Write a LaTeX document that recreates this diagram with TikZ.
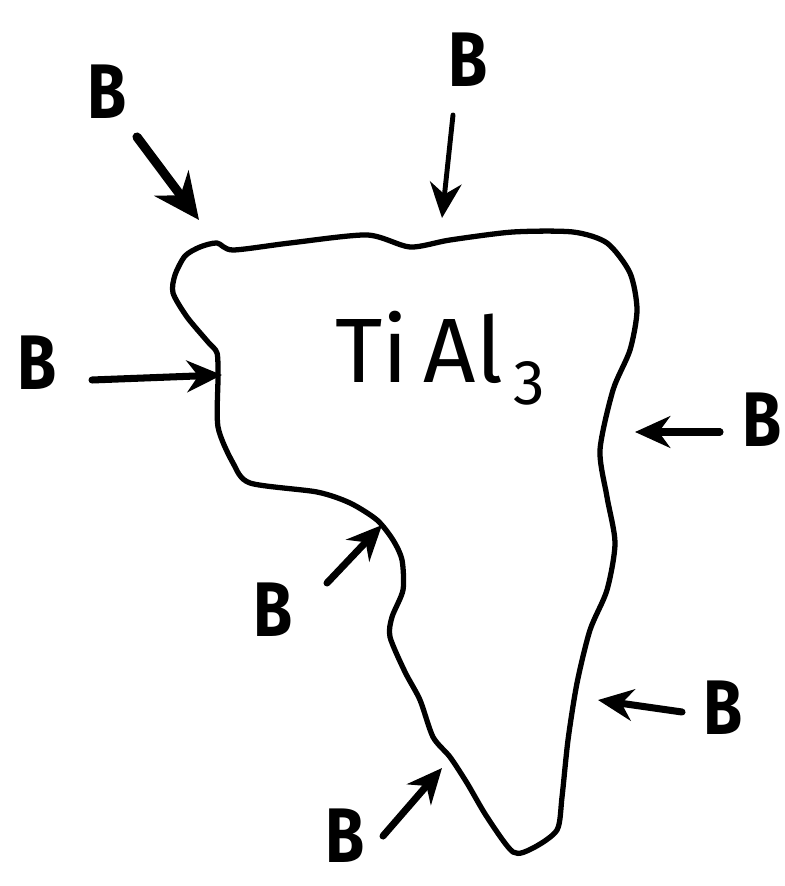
\documentclass[tikz,border=0pt]{standalone}
\usepackage{fontspec}
\setsansfont{Fira Sans}
\usetikzlibrary{arrows.meta}

\begin{document}
\begin{tikzpicture}[x=0.01cm, y=-0.01cm,
  flux/.style={line width=2pt, line cap=round, -{Stealth[length=10pt,width=9pt]}},
  lbl/.style={font=\sffamily\bfseries\fontsize{22}{26}\selectfont, inner sep=0pt}]
  \useasboundingbox (0,0) rectangle (784,886);
  \draw[line width=1.5pt, line join=round] plot[smooth cycle, tension=0.45] coordinates {
    (175,275) (185,256) (200,247) (217,243) (233,250) (290,243) (367,235) (410,247)
    (450,240) (513,232) (573,232) (607,243) (630,273) (637,310) (630,350) (613,390)
    (600,450) (607,497) (615,543) (607,590) (590,630) (577,683) (568,740) (562,797)
    (557,830) (533,848) (513,852) (487,817) (467,783) (450,757) (433,737) (420,700)
    (405,672) (390,637) (392,617) (403,590) (402,560) (393,540) (377,520) (350,503)
    (317,492) (250,483) (233,463) (218,427) (218,377) (217,353) (208,342) (187,317)
    (173,293)};
  \node[font=\sffamily\fontsize{26}{30}\selectfont, anchor=base west, inner sep=0pt] (phase) at (335,383)
    {Ti\,Al\raisebox{-6pt}{\fontsize{18}{20}\selectfont\,3}};
  \node[lbl] (b1) at (107,92) {\scalebox{.82}[1]{B}};
  \node[lbl] (b2) at (468,60) {\scalebox{.82}[1]{B}};
  \node[lbl] (b3) at (37,363) {\scalebox{.82}[1]{B}};
  \node[lbl] (b4) at (762,420) {\scalebox{.82}[1]{B}};
  \node[lbl] (b5) at (273,610) {\scalebox{.82}[1]{B}};
  \node[lbl] (b6) at (723,708) {\scalebox{.82}[1]{B}};
  \node[lbl] (b7) at (345,836) {\scalebox{.82}[1]{B}};
  \coordinate (t1) at (137,137); \coordinate (h1) at (199,220);
  \coordinate (t2) at (453,115); \coordinate (h2) at (442,218);
  \coordinate (t3) at (92,380);  \coordinate (h3) at (222,375);
  \coordinate (t4) at (720,432); \coordinate (h4) at (635,432);
  \coordinate (t5) at (327,583); \coordinate (h5) at (382,525);
  \coordinate (t6) at (682,712); \coordinate (h6) at (598,700);
  \coordinate (t7) at (383,836); \coordinate (h7) at (442,768);
  \draw[flux, line width=2.6pt, -{Stealth[length=13pt,width=12pt]}] (t1) -- (h1);
  \draw[flux, line width=1.4pt] (t2) -- (h2);
  \draw[flux] (t3) -- (h3);
  \draw[flux] (t4) -- (h4);
  \draw[flux] (t5) -- (h5);
  \draw[flux] (t6) -- (h6);
  \draw[flux] (t7) -- (h7);
\end{tikzpicture}
\end{document}
